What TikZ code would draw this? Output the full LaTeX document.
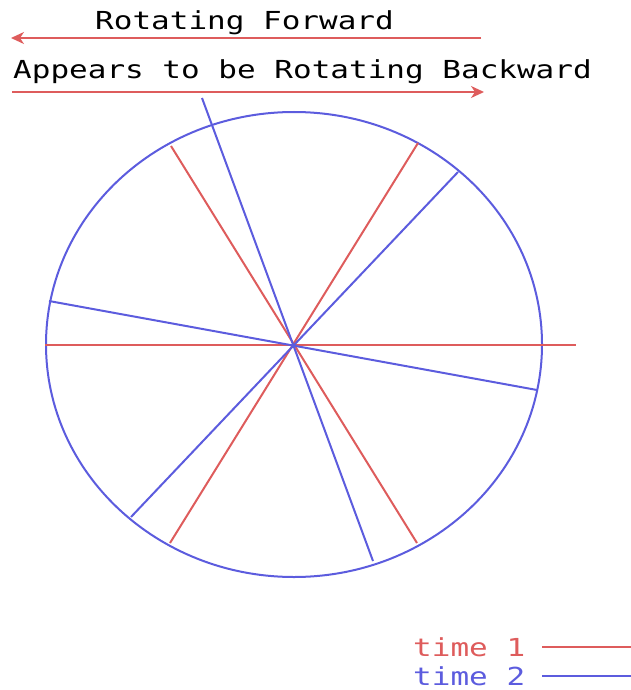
\documentclass[tikz,border=0pt]{standalone}
\usepackage{fontspec}
\newfontfamily\pixmono{DejaVu Sans Mono}
\usetikzlibrary{arrows.meta,shapes.geometric}
\definecolor{tred}{RGB}{222,92,92}
\definecolor{tblue}{RGB}{92,92,222}
\tikzset{
  redline/.style={draw=tred, line width=2pt},
  blueline/.style={draw=tblue, line width=2pt},
  lbl/.style={inner sep=0pt, anchor=base west, font=\pixmono\fontsize{31}{33}\selectfont},
  arr/.style={draw=tred, line width=2pt, -{Stealth[length=13pt,width=12pt,inset=4pt]}},
}
\begin{document}
\begin{tikzpicture}[x=1pt,y=-1pt]
\useasboundingbox (0,0) rectangle (631,690);
% titles
\node[lbl] (fwd) at (95,30) {\scalebox{1}[0.8]{Rotating Forward}};
\node[lbl] (bwd) at (13,79) {\scalebox{1}[0.8]{Appears to be Rotating Backward}};
\coordinate (f1) at (481,38); \coordinate (f2) at (11,38);
\coordinate (b1) at (12,92); \coordinate (b2) at (484,92);
\draw[arr] (f1) -- (f2);
\draw[arr] (b1) -- (b2);
% wheel
\node[draw=tblue, line width=2pt, ellipse, minimum width=496pt, minimum height=465pt, inner sep=0pt] (wheel) at (294,344.5) {};
% time 1 spokes (red)
\coordinate (r1a) at (45,345); \coordinate (r1b) at (576,345);
\coordinate (r2a) at (171,146); \coordinate (r2b) at (417,543);
\coordinate (r3a) at (418,143); \coordinate (r3b) at (170,543);
\draw[redline] (r1a) -- (r1b);
\draw[redline] (r2a) -- (r2b);
\draw[redline] (r3a) -- (r3b);
% time 2 spokes (blue)
\coordinate (u1a) at (202,98); \coordinate (u1b) at (373,561);
\coordinate (u2a) at (458,172); \coordinate (u2b) at (131,517);
\coordinate (u3a) at (49,301); \coordinate (u3b) at (537,390);
\draw[blueline] (u1a) -- (u1b);
\draw[blueline] (u2a) -- (u2b);
\draw[blueline] (u3a) -- (u3b);
% legend
\node[lbl, text=tred] (t1) at (413,656) {\scalebox{1}[0.8]{time 1}};
\node[lbl, text=tblue] (t2) at (413,685) {\scalebox{1}[0.8]{time 2}};
\coordinate (l1a) at (542,647); \coordinate (l1b) at (631,647);
\coordinate (l2a) at (542,676); \coordinate (l2b) at (631,676);
\draw[redline] (l1a) -- (l1b);
\draw[blueline] (l2a) -- (l2b);
\end{tikzpicture}
\end{document}
